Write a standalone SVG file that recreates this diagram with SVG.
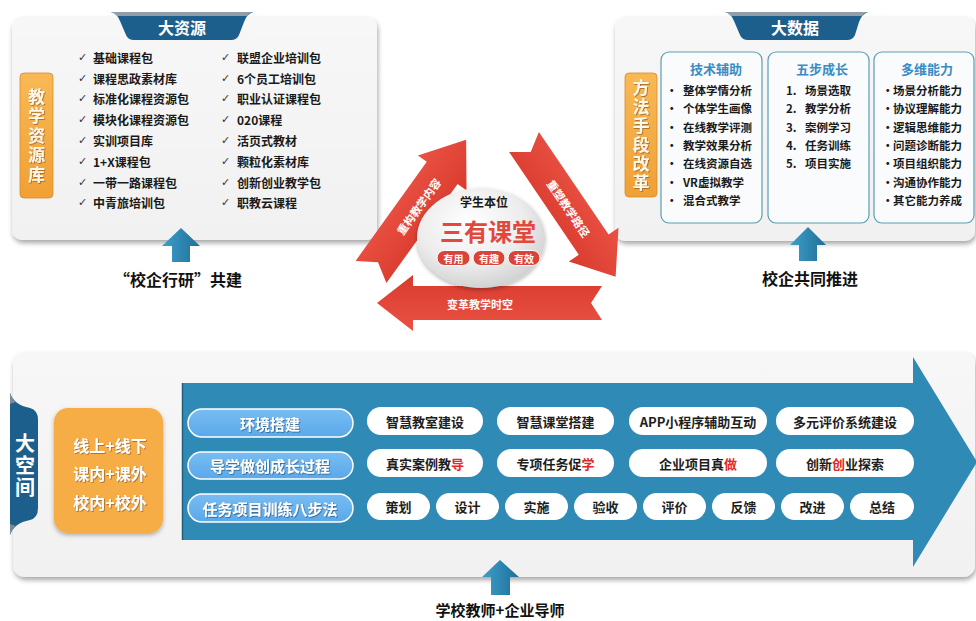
<svg xmlns="http://www.w3.org/2000/svg" width="976" height="621" viewBox="0 0 976 621">
<defs>
<style>
text{font-family:"Noto Sans CJK SC","Noto Sans",sans-serif;font-weight:700;dominant-baseline:central}
.lst{font-size:12px;fill:#1a1a1a}
.chk{font-family:"DejaVu Sans",sans-serif;font-size:11px;font-weight:400;fill:#333}
.ri{font-size:11.5px;fill:#1a1a1a}
.hd{font-size:13px;fill:#3a8cc4;text-anchor:middle}
.vt{font-size:17px;fill:#fff7e8;text-anchor:middle;writing-mode:vertical-rl}
.tab{font-size:16px;fill:#fff;text-anchor:middle}
.lab{font-size:16px;fill:#111;text-anchor:middle}
.wp{fill:#fff}
.wt{font-size:13px;fill:#1e1e1e;text-anchor:middle}
.bp{fill:url(#gbp);stroke:#fff;stroke-width:1.5}
.bt{font-size:15px;fill:#fff;text-anchor:middle}
.red{fill:#e02a2a}
.ra{fill:url(#gred)}
.rt{font-size:11px;fill:#fff;text-anchor:middle}
.box{fill:#f9fbfc;stroke:#5c9db0;stroke-width:1.2}
.org{fill:url(#gorg);stroke:#d98a2a;stroke-width:0.8}
.up{fill:url(#gup)}
.ot{font-size:16px;fill:#fff;text-anchor:middle}
.pill{fill:#d8433a;stroke:#fff;stroke-width:1}
.pt{font-size:10px;fill:#fff;text-anchor:middle}
</style>
<filter id="sh" x="-5%" y="-5%" width="112%" height="120%"><feDropShadow dx="1" dy="3" stdDeviation="2.5" flood-color="#000" flood-opacity="0.35"/></filter>
<filter id="ts" x="-10%" y="-10%" width="120%" height="130%"><feDropShadow dx="0.8" dy="0.8" stdDeviation="0.6" flood-color="#7a4a10" flood-opacity="0.7"/></filter>
<filter id="tsb" x="-10%" y="-10%" width="120%" height="130%"><feDropShadow dx="0.8" dy="0.8" stdDeviation="0.6" flood-color="#1d4f78" flood-opacity="0.8"/></filter>
<filter id="es" x="-10%" y="-10%" width="120%" height="130%"><feDropShadow dx="0" dy="2" stdDeviation="2" flood-opacity="0.3"/></filter>
<linearGradient id="gorg" x1="0" y1="0" x2="0" y2="1"><stop offset="0" stop-color="#f8b955"/><stop offset="1" stop-color="#f0a035"/></linearGradient>
<linearGradient id="gbp" x1="0" y1="0" x2="0" y2="1"><stop offset="0" stop-color="#78bdf2"/><stop offset="1" stop-color="#5aa8ea"/></linearGradient>
<linearGradient id="gred" x1="0" y1="0" x2="0" y2="1"><stop offset="0" stop-color="#ea5244"/><stop offset="1" stop-color="#d93b2e"/></linearGradient>
<linearGradient id="gup" x1="0" y1="0" x2="1" y2="0"><stop offset="0" stop-color="#3d9fcb"/><stop offset="1" stop-color="#1f6f97"/></linearGradient>
<linearGradient id="gpan" x1="0" y1="0" x2="0" y2="1"><stop offset="0" stop-color="#f7f7f7"/><stop offset="1" stop-color="#f1f1f1"/></linearGradient>
<radialGradient id="gell" cx="0.42" cy="0.35" r="0.7"><stop offset="0" stop-color="#ffffff"/><stop offset="0.6" stop-color="#ececec"/><stop offset="1" stop-color="#cdcdcd"/></radialGradient>
</defs>
<rect width="976" height="621" fill="#fff"/>

<g id="resources">
<rect x="12" y="17" width="365" height="223" rx="10" fill="url(#gpan)" filter="url(#sh)"/>
<path d="M111,12 L253,12 Q247,14 244,22 L239,35 Q237,40 231,40 L134,40 Q128,40 126,35 L120,21 Q117,13 111,12 Z" fill="#1d5f8c"/>
<path d="M111,12 L253,12 Q249,13 247,16 L117,16 Q115,13 111,12 Z" fill="#8f9ea8"/>
<text class="tab" x="182" y="27">大资源</text>
<rect class="org" x="20" y="73" width="33" height="125" rx="4"/>
<text class="vt" x="36.5" y="136.5" filter="url(#ts)" style="letter-spacing:2.5px">教学资源库</text>
<text class="lst" x="78" y="57"><tspan class="chk">✓</tspan><tspan x="93">基础课程包</tspan></text>
<text class="lst" x="78" y="78"><tspan class="chk">✓</tspan><tspan x="93">课程思政素材库</tspan></text>
<text class="lst" x="78" y="98"><tspan class="chk">✓</tspan><tspan x="93">标准化课程资源包</tspan></text>
<text class="lst" x="78" y="119"><tspan class="chk">✓</tspan><tspan x="93">模块化课程资源包</tspan></text>
<text class="lst" x="78" y="140"><tspan class="chk">✓</tspan><tspan x="93">实训项目库</tspan></text>
<text class="lst" x="78" y="161"><tspan class="chk">✓</tspan><tspan x="93">1+X课程包</tspan></text>
<text class="lst" x="78" y="182"><tspan class="chk">✓</tspan><tspan x="93">一带一路课程包</tspan></text>
<text class="lst" x="78" y="202"><tspan class="chk">✓</tspan><tspan x="93">中青旅培训包</tspan></text>
<text class="lst" x="221" y="57"><tspan class="chk">✓</tspan><tspan x="237">联盟企业培训包</tspan></text>
<text class="lst" x="221" y="78"><tspan class="chk">✓</tspan><tspan x="237">6个员工培训包</tspan></text>
<text class="lst" x="221" y="98"><tspan class="chk">✓</tspan><tspan x="237">职业认证课程包</tspan></text>
<text class="lst" x="221" y="119"><tspan class="chk">✓</tspan><tspan x="237">020课程</tspan></text>
<text class="lst" x="221" y="140"><tspan class="chk">✓</tspan><tspan x="237">活页式教材</tspan></text>
<text class="lst" x="221" y="161"><tspan class="chk">✓</tspan><tspan x="237">颗粒化素材库</tspan></text>
<text class="lst" x="221" y="182"><tspan class="chk">✓</tspan><tspan x="237">创新创业教学包</tspan></text>
<text class="lst" x="221" y="202"><tspan class="chk">✓</tspan><tspan x="237">职教云课程</tspan></text>
</g>

<g id="bigdata">
<rect x="615" y="17" width="360" height="224" rx="10" fill="url(#gpan)" filter="url(#sh)"/>
<path d="M725,12 L868,12 Q862,14 859,22 L855,35 Q853,40 847,40 L748,40 Q742,40 740,35 L734,21 Q731,13 725,12 Z" fill="#1d5f8c"/>
<path d="M725,12 L868,12 Q864,13 862,16 L731,16 Q729,13 725,12 Z" fill="#8f9ea8"/>
<text class="tab" x="795" y="27">大数据</text>
<rect class="org" x="625" y="73" width="32" height="124" rx="4"/>
<text class="vt" x="641" y="136" filter="url(#ts)" style="letter-spacing:2px">方法手段改革</text>
<rect class="box" x="661" y="52" width="101" height="171" rx="8"/>
<rect class="box" x="768" y="52" width="101" height="171" rx="8"/>
<rect class="box" x="874" y="52" width="100" height="171" rx="8"/>
<text class="hd" x="716" y="68">技术辅助</text>
<text class="hd" x="822" y="68">五步成长</text>
<text class="hd" x="927" y="68">多维能力</text>
<text class="ri" x="666" y="90">•<tspan x="683">整体学情分析</tspan></text>
<text class="ri" x="666" y="108">•<tspan x="683">个体学生画像</tspan></text>
<text class="ri" x="666" y="127">•<tspan x="683">在线教学评测</tspan></text>
<text class="ri" x="666" y="145">•<tspan x="683">教学效果分析</tspan></text>
<text class="ri" x="666" y="163">•<tspan x="683">在线资源自选</tspan></text>
<text class="ri" x="666" y="182">•<tspan x="683">VR虚拟教学</tspan></text>
<text class="ri" x="666" y="200">•<tspan x="683">混合式教学</tspan></text>
<text class="ri" x="786" y="90">1.<tspan x="805">场景选取</tspan></text>
<text class="ri" x="786" y="108">2.<tspan x="805">教学分析</tspan></text>
<text class="ri" x="786" y="127">3.<tspan x="805">案例学习</tspan></text>
<text class="ri" x="786" y="145">4.<tspan x="805">任务训练</tspan></text>
<text class="ri" x="786" y="163">5.<tspan x="805">项目实施</tspan></text>
<text class="ri" x="882" y="90">•<tspan x="893">场景分析能力</tspan></text>
<text class="ri" x="882" y="108">•<tspan x="893">协议理解能力</tspan></text>
<text class="ri" x="882" y="127">•<tspan x="893">逻辑思维能力</tspan></text>
<text class="ri" x="882" y="145">•<tspan x="893">问题诊断能力</tspan></text>
<text class="ri" x="882" y="163">•<tspan x="893">项目组织能力</tspan></text>
<text class="ri" x="882" y="182">•<tspan x="893">沟通协作能力</tspan></text>
<text class="ri" x="882" y="200">•<tspan x="893">其它能力养成</tspan></text>
</g>

<g id="space">
<rect x="13" y="352" width="962" height="225" rx="12" fill="url(#gpan)" filter="url(#sh)"/>
<path d="M10,393 Q14,405 30,408 Q38,410 38,420 L38,508 Q38,518 30,520 Q14,523 10,535 Z" fill="#1d5f8c"/>
<path d="M10,393 Q12,399 16,402 L10,404 Z" fill="#7d8a93"/>
<path d="M10,535 Q12,529 16,526 L10,524 Z" fill="#7d8a93"/>
<text x="25" y="466" style="font-size:20px;fill:#fff;text-anchor:middle;writing-mode:vertical-rl;letter-spacing:2px">大空间</text>
<rect x="54" y="408" width="109" height="125" rx="14" fill="#f7ad45" filter="url(#es)"/>
<g filter="url(#ts)">
<text class="ot" x="110" y="445">线上+线下</text>
<text class="ot" x="110" y="473">课内+课外</text>
<text class="ot" x="110" y="502">校内+校外</text>
</g>
<path d="M182,383 L913,383 L913,357 L977,462 L913,567 L913,540 L182,540 Z" fill="#2f8ab5"/>
<line x1="182.5" y1="383" x2="182.5" y2="540" stroke="#21607f" stroke-width="1.5"/>
</g>

<g id="rows">
<rect class="bp" x="188" y="409" width="165" height="28" rx="14"/>
<rect class="bp" x="188" y="452" width="165" height="27" rx="13.5"/>
<rect class="bp" x="188" y="494" width="165" height="28" rx="14"/>
<g filter="url(#tsb)">
<text class="bt" x="270" y="423">环境搭建</text>
<text class="bt" x="270" y="465">导学做创成长过程</text>
<text class="bt" x="270" y="508">任务项目训练八步法</text>
</g>
<rect class="wp" x="367" y="407" width="116" height="28" rx="14"/>
<rect class="wp" x="497" y="407" width="117" height="28" rx="14"/>
<rect class="wp" x="629" y="407" width="138" height="28" rx="14"/>
<rect class="wp" x="776" y="407" width="138" height="28" rx="14"/>
<text class="wt" x="425" y="421">智慧教室建设</text>
<text class="wt" x="555.5" y="421">智慧课堂搭建</text>
<text class="wt" x="698" y="421">APP小程序辅助互动</text>
<text class="wt" x="845" y="421">多元评价系统建设</text>
<rect class="wp" x="367" y="449" width="116" height="28" rx="14"/>
<rect class="wp" x="497" y="449" width="117" height="28" rx="14"/>
<rect class="wp" x="629" y="449" width="138" height="28" rx="14"/>
<rect class="wp" x="776" y="449" width="138" height="28" rx="14"/>
<text class="wt" x="425" y="463">真实案例教<tspan class="red">导</tspan></text>
<text class="wt" x="555.5" y="463">专项任务促<tspan class="red">学</tspan></text>
<text class="wt" x="698" y="463">企业项目真<tspan class="red">做</tspan></text>
<text class="wt" x="845" y="463">创新<tspan class="red">创</tspan>业探索</text>
<rect class="wp" x="367" y="493" width="63" height="27" rx="13.5"/>
<rect class="wp" x="436" y="493" width="63" height="27" rx="13.5"/>
<rect class="wp" x="505" y="493" width="63" height="27" rx="13.5"/>
<rect class="wp" x="574" y="493" width="63" height="27" rx="13.5"/>
<rect class="wp" x="643" y="493" width="63" height="27" rx="13.5"/>
<rect class="wp" x="712" y="493" width="63" height="27" rx="13.5"/>
<rect class="wp" x="781" y="493" width="63" height="27" rx="13.5"/>
<rect class="wp" x="850" y="493" width="64" height="27" rx="13.5"/>
<text class="wt" x="398.5" y="506.5">策划</text>
<text class="wt" x="467.5" y="506.5">设计</text>
<text class="wt" x="536.5" y="506.5">实施</text>
<text class="wt" x="605.5" y="506.5">验收</text>
<text class="wt" x="674.5" y="506.5">评价</text>
<text class="wt" x="743.5" y="506.5">反馈</text>
<text class="wt" x="812.5" y="506.5">改进</text>
<text class="wt" x="882" y="506.5">总结</text>
</g>

<g id="connectors">
<polygon class="up" points="181,228 200,246 190,246 190,262 172,262 172,246 162,246"/>
<polygon class="up" points="808,227 826,245 817,245 817,261 799,261 799,245 790,245"/>
<polygon class="up" points="500,560 519,577 510,577 510,595 491,595 491,577 482,577"/>
<g transform="translate(371,272) rotate(-54.3)">
<polygon class="ra" points="0,-19 122,-19 122,-30 163,0 122,30 122,19 0,19 12,0"/>
<text class="rt" x="81" y="0">重构教学内容</text>
</g>
<g transform="translate(524,142) rotate(55.8)">
<polygon class="ra" points="0,-18 124,-18 124,-30 163,0 124,30 124,18 0,18 12,0"/>
<text class="rt" x="80" y="0">重塑教学路径</text>
</g>
<g transform="translate(602,303) rotate(180)">
<polygon class="ra" points="0,-17 189,-17 189,-28 225,0 189,28 189,17 0,17 11,0"/>
</g>
<text class="rt" x="480" y="304">变革教学时空</text>
</g>

<g id="center">
<ellipse cx="481" cy="238" rx="64" ry="50" fill="url(#gell)" filter="url(#es)"/>
<text x="484" y="201" style="font-size:12px;fill:#1a1a1a;text-anchor:middle">学生本位</text>
<text x="488" y="230" style="font-size:24px;fill:#e2483b;text-anchor:middle">三有课堂</text>
<rect class="pill" x="437" y="250.5" width="33" height="15" rx="7.5"/>
<rect class="pill" x="473" y="250.5" width="32" height="15" rx="7.5"/>
<rect class="pill" x="508" y="250.5" width="32" height="15" rx="7.5"/>
<text class="pt" x="453.5" y="258">有用</text>
<text class="pt" x="489" y="258">有趣</text>
<text class="pt" x="524" y="258">有效</text>
</g>

<g id="labels">
<text class="lab" x="178" y="279">“校企行研”共建</text>
<text class="lab" x="810" y="278">校企共同推进</text>
<text class="lab" x="500" y="609" style="font-size:15px">学校教师+企业导师</text>
</g>
</svg>
